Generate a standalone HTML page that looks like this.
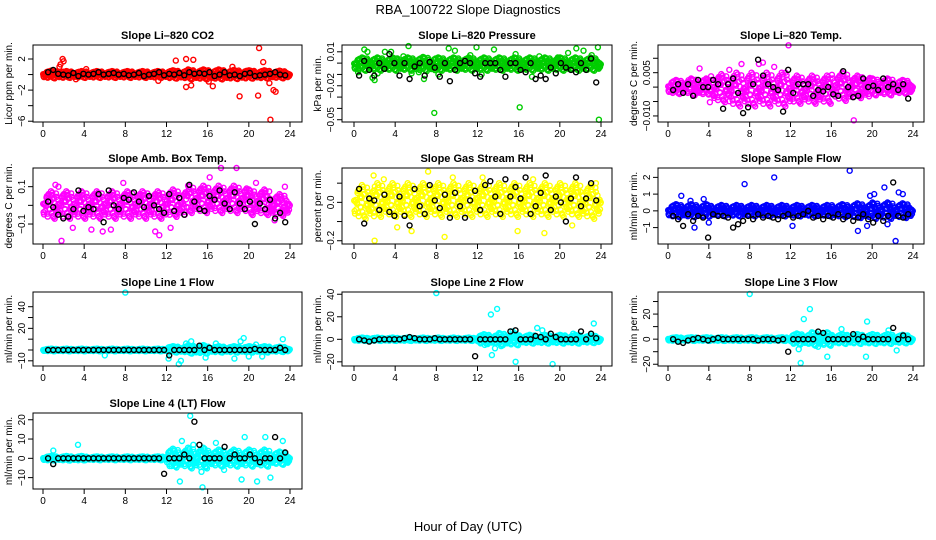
<!DOCTYPE html>
<html><head><meta charset="utf-8"><style>
body{margin:0;background:#fff}
svg{display:block;font-family:"Liberation Sans",Arial,sans-serif}
</style></head><body>
<svg id="chart" width="936" height="540" viewBox="0 0 936 540" xmlns="http://www.w3.org/2000/svg">
<rect width="936" height="540" fill="#fff"/>
<text x="468" y="14" text-anchor="middle" font-size="13">RBA_100722  Slope Diagnostics</text>
<text x="468" y="531" text-anchor="middle" font-size="13">Hour of Day (UTC)</text>
</svg>
<script>
// ---- shared data ----
const xTicks = [0,4,8,12,16,20,24];
const jit = [0.1,-0.3,0.6,-0.8,0.2,-0.05,0.9,-0.5,0.35,-0.15,0.7,-0.95,0.0,0.45,-0.65,0.25,-0.35,0.8,-0.2,0.55,-0.75,0.05,1.0,-0.45,0.3,-0.1,0.65,-0.85,0.15,-0.55,0.4,-0.25,0.85,-0.6,0.5,-0.4,0.75];

// ---- CO2 ----
const co2Mid = [0,0,0,0,0,0,0,0,0,0,0,0];
const co2Spread = [0.5,0.45,0.45,0.45,0.45,0.45,0.55,0.65,0.65,0.6,0.55,0.5];
const co2Out = [[1.6,1.0],[1.7,1.3],[1.9,2.0],[2.0,1.7],[3.2,-0.6],[11.2,-0.8],[12.9,1.8],[13.9,2.0],[14.6,1.9],[13.9,-1.6],[14.4,-1.4],[16.5,-1.5],[16.1,-0.9],[19.1,-2.8],[21.0,3.4],[20.9,-2.7],[21.4,1.6],[22.0,-1.1],[22.4,-2.0],[22.6,-2.2],[22.1,-5.8],[18.4,1.0],[4.2,0.7]];
const co2Black = [0.3,0.6,0.1,0,-0.1,0.2,-0.2,0.1,0,0.1,0.3,0,0.1,0.2,0,0.1,-0.1,0,0.2,-0.2,0,0.1,0.3,-0.1,0.1,0,0.2,-0.1,0.3,0.1,0.2,0.1,0.3,-0.2,0,0.3,-0.1,0,-0.2,0.1,0.2,-0.2,-0.1,0,0.1,0.3,0,-0.1];
// ---- Pressure ----
const presMid = [-0.001,-0.001,-0.001,-0.001,-0.001,-0.001,-0.001,-0.001,-0.001,-0.001,-0.001,-0.001];
const presSpread = [0.006,0.006,0.006,0.0065,0.006,0.006,0.006,0.006,0.006,0.006,0.006,0.006];
const presOut = [[0.4,-0.008],[1.0,0.012],[1.3,0.010],[1.8,-0.013],[2.3,-0.009],[3.0,0.010],[3.6,0.010],[4.1,0.004],[4.8,0.006],[5.3,0.015],[5.6,-0.009],[6.3,-0.008],[7.8,-0.044],[8.2,-0.010],[9.2,0.013],[9.8,0.011],[11.3,0.007],[11.9,0.014],[12.4,-0.010],[13.6,0.012],[14.3,-0.006],[15.7,0.008],[16.1,-0.039],[17.3,-0.012],[18.0,0.006],[19.8,0.005],[20.8,0.009],[21.6,0.013],[22.3,0.011],[23.1,0.007],[23.7,0.014],[23.8,-0.05],[2.0,-0.015],[6.8,-0.014]];
const presBlack = [-0.011,0.002,-0.006,-0.011,0,-0.005,0.008,0,-0.011,0,-0.014,-0.003,0,-0.011,0.001,-0.004,-0.012,0,-0.016,-0.006,0,0.002,0,-0.009,-0.012,0,0,0,-0.006,-0.012,0,0,-0.006,-0.008,0,-0.014,-0.011,-0.014,-0.004,-0.009,0,-0.004,-0.006,-0.008,0,-0.006,0.004,-0.017];
// ---- Li-820 Temp ----
const ltMid = [0,0,-0.0005,-0.001,-0.001,-0.001,-0.001,-0.001,0,0,0,0];
const ltSpread = [0.0025,0.003,0.005,0.006,0.006,0.006,0.005,0.005,0.005,0.004,0.003,0.0025];
const ltOut = [[11.8,0.0145],[9.3,0.0085],[8.9,0.008],[10.4,0.007],[7.2,0.008],[3.1,0.0065],[18.2,-0.0115],[11.5,0.005],[6.0,0.006]];
const ltBlack = [-0.001,0.001,-0.002,0.001,-0.003,0.0025,0,0,0.0025,0.001,-0.0075,0.001,0.003,-0.002,-0.009,-0.007,0.001,0.0095,0.004,0.001,0,-0.001,-0.0085,0.006,-0.002,0.001,0.001,0.001,-0.003,-0.001,-0.0015,0,-0.0025,-0.003,0.0055,0,-0.0035,-0.003,0.003,0,0.0005,-0.001,0.003,0,0.001,-0.001,0.001,-0.004];
// ---- Amb Box Temp ----
const abMid = [0,0,0,0,0,0,0.01,0.03,0.03,0.03,0.015,0];
const abSpread = [0.075,0.075,0.075,0.075,0.075,0.075,0.075,0.075,0.075,0.075,0.07,0.06];
const abOut = [[1.2,0.11],[1.5,0.1],[1.8,-0.19],[2.9,-0.12],[4.7,-0.13],[5.8,-0.14],[6.6,-0.13],[7.8,0.12],[10.9,-0.14],[11.3,-0.16],[12.4,-0.12],[16.2,0.15],[17.3,0.2],[18.8,0.2],[20.7,0.12],[23.5,0.1],[22.5,-0.08]];
const abBlack = [0.02,-0.01,-0.05,-0.07,-0.06,-0.02,0.08,-0.03,-0.01,-0.02,0.06,-0.09,0.08,0,-0.02,0.04,0.03,0.07,0.02,-0.01,0.05,0,-0.02,-0.04,0.06,-0.03,0.04,-0.05,0.11,0.02,-0.02,-0.03,0.05,0.03,0.08,0.01,-0.02,0.07,0.01,-0.02,0.02,-0.1,0.01,-0.02,0.03,-0.07,-0.04,-0.09];
// ---- Gas Stream RH ----
const rhMid = [0,0.01,0.01,0.01,0.01,0.01,0.01,0.01,0.01,0.01,0.01,0];
const rhSpread = [0.09,0.09,0.09,0.09,0.09,0.09,0.09,0.09,0.09,0.09,0.09,0.09];
const rhOut = [[2.0,-0.2],[1.9,0.14],[2.9,0.12],[7.2,0.16],[8.8,-0.18],[9.6,0.13],[4.2,-0.13],[5.6,-0.15],[15.9,-0.15],[18.5,-0.16],[12.5,0.13],[17.4,0.12],[23.5,0.1],[21.2,-0.12]];
const rhBlack = [0.07,-0.11,0.02,0.01,-0.04,0.04,-0.05,-0.07,0.03,-0.07,-0.12,0.07,-0.02,-0.06,0.09,0.01,-0.03,0.04,-0.08,0.05,-0.02,-0.08,0.01,0.06,-0.04,0.09,0.11,0.03,-0.06,0.12,0.03,0.08,0.02,0.13,-0.06,-0.02,0.05,0.14,-0.04,0.03,0,-0.1,0.02,0.13,-0.02,0.02,0.1,0.01];
// ---- Sample Flow ----
const sfMid = [0,0,0,0,0,0,0,0,0,0,0,0];
const sfSpread = [0.4,0.4,0.35,0.35,0.35,0.35,0.35,0.35,0.4,0.45,0.5,0.45];
const sfOut = [[1.3,0.9],[2.2,0.6],[2.6,-1.0],[3.5,0.7],[4.0,-0.7],[7.5,1.6],[10.4,2.0],[12.2,-0.9],[17.8,2.4],[18.6,-1.2],[19.8,0.9],[20.2,1.0],[21.2,1.4],[22.3,-1.8],[22.6,1.1],[23.0,1.0],[19.5,-0.9],[21.5,-0.8]];
const sfBlack = [-0.3,-0.5,-0.9,-0.2,-0.6,-0.3,-0.4,-1.6,-0.2,-0.3,-0.3,-0.4,-1.0,-0.8,-0.6,-0.3,-0.5,-0.2,-0.4,-0.3,-0.4,-0.5,-0.3,-0.2,-0.4,-0.3,-0.2,0,-0.4,-0.3,-0.5,-0.3,-0.4,-0.2,-0.5,-0.3,-0.6,-0.4,-0.2,-0.5,-0.7,-0.3,-0.6,-0.3,1.7,-0.3,-0.4,-0.2];
// ---- Line 1 ----
const l1Mid = [0,0,0,0,0,0,0.5,0.5,0.5,0.5,0.5,0.5];
const l1Spread = [1.2,1.2,1.2,1.2,1.2,1.2,3.0,4.0,3.0,3.0,3.0,2.5];
const l1Out = [[8.0,53],[13.2,-13],[13.4,-10],[12.2,-8],[14.4,8],[13.9,6],[15.8,-7],[16.8,6],[19.2,8],[19.5,11],[20.0,-6],[23.3,10],[18.6,-8],[20.7,5],[21.3,-6],[6.0,-5]];
const l1Black = [0,0,0,0,0,0,0,0,0,0,0,0,0,0,0,0,0,0,0,0,0,0,0,0,-5,0,0,0,0,0,4,0,2,0,0,0,0,0,0,0,0,1,0,0,0,0,2,0];
// ---- Line 2 ----
const l2Mid = [0,0,0,0,0,0,0,0,0,0,0,0];
const l2Spread = [1.5,1.5,1.5,1.5,1.5,1.5,4.5,5.5,4,4,4,3.5];
const l2Out = [[8.0,41],[13.3,22],[13.9,27],[13.4,-14],[13.7,-8],[14.3,-6],[15.7,-20],[19.3,-22],[17.8,10],[18.3,8],[23.3,14],[21.3,5],[12.7,-5],[15.4,7]];
const l2Black = [0,-1,-2,-1,0,0,0,0,0,1,2,1,0,0,0,1,0,0,0,0,0,0,0,-15,0,0,0,0,0,0,7,8,0,0,0,3,2,0,5,2,0,0,0,0,7,0,5,1];
// ---- Line 3 ----
const l3Mid = [0,0,0,0,0,0,0,0,0,0,0,0];
const l3Spread = [1.5,1.5,1.5,1.5,1.5,1.5,4.5,5.5,4,4,4,3.5];
const l3Out = [[8.0,36],[13.0,-19],[13.3,16],[13.9,24],[15.6,-14],[12.8,-8],[19.4,-14],[19.5,14],[17.0,8],[21.6,7],[22.4,-9],[14.7,-6]];
const l3Black = [0,-2,-3,-1,0,1,0,-1,0,1,0,0,0,0,0,0,0,-1,0,0,0,-1,0,-10,0,0,0,0,0,6,5,0,0,0,0,0,4,0,2,0,0,0,0,0,9,0,3,0];
// ---- Line 4 ----
const l4Mid = [0,0,0,0,0,0,0,0,0,0,0,0];
const l4Spread = [1.2,1.2,1.0,1.0,1.0,1.0,5.0,5.5,4.5,4.5,4.5,3.5];
const l4Out = [[1.0,4],[3.4,7],[13.3,-12],[14.3,22],[13.5,9],[15.5,-15],[15.4,-7],[16.8,8],[17.6,-6],[19.3,-11],[19.6,11],[20.8,-12],[21.6,11],[22.1,-10],[23.3,9],[12.5,-4],[14.6,7]];
const l4Black = [0,-3,0,0,0,0,0,0,0,0,0,0,0,0,0,0,0,0,0,0,0,0,0,-8,0,0,0,2,0,19,7,0,0,0,0,6,0,2,0,0,2,0,-2,0,0,11,0,3];

// ---- panel layout (not data) ----
const cols = [{l:33,r:302,x0:43,x24:290},{l:342,r:612,x0:354,x24:601},{l:658,r:924,x0:668,x24:913}];
const rows = [{t:45,b:122},{t:168,b:244},{t:292,b:366},{t:413,b:489}];
const panels = [
 {name:'co2',title:'Slope Li\u2013820 CO2',ylab:'Licor ppm per min.',col:'#ff0000',c:0,r:0,dom:[-6.1,3.8],ticks:[-6,-4,-2,0,2],labs:[[-6,'\u22126'],[-2,'\u22122'],[2,'2']],mid:co2Mid,spr:co2Spread,out:co2Out,blk:co2Black},
 {name:'pressure',title:'Slope Li\u2013820 Pressure',ylab:'kPa per min.',col:'#00cd00',c:1,r:0,dom:[-0.052,0.016],ticks:[-0.05,-0.04,-0.03,-0.02,-0.01,0,0.01],labs:[[-0.05,'\u22120.05'],[-0.02,'\u22120.02'],[0.01,'0.01']],mid:presMid,spr:presSpread,out:presOut,blk:presBlack},
 {name:'li820-temp',title:'Slope Li\u2013820 Temp.',ylab:'degrees C per min.',col:'#ff00ff',c:2,r:0,dom:[-0.0121,0.0146],ticks:[-0.01,-0.005,0,0.005,0.01],labs:[[-0.01,'\u22120.010'],[0.005,'0.005']],mid:ltMid,spr:ltSpread,out:ltOut,blk:ltBlack},
 {name:'amb-box-temp',title:'Slope Amb. Box Temp.',ylab:'degrees C per min.',col:'#ff00ff',c:0,r:1,dom:[-0.207,0.2],ticks:[-0.1,0,0.1],labs:[[-0.1,'\u22120.1'],[0.1,'0.1']],mid:abMid,spr:abSpread,out:abOut,blk:abBlack},
 {name:'gas-stream-rh',title:'Slope Gas Stream RH',ylab:'percent per min.',col:'#ffff00',c:1,r:1,dom:[-0.217,0.179],ticks:[-0.2,-0.1,0,0.1],labs:[[-0.2,'\u22120.2'],[0,'0.0']],mid:rhMid,spr:rhSpread,out:rhOut,blk:rhBlack},
 {name:'sample-flow',title:'Slope Sample Flow',ylab:'ml/min per min.',col:'#0000ff',c:2,r:1,dom:[-1.98,2.56],ticks:[-1,0,1,2],labs:[[-1,'\u22121'],[0,'0'],[1,'1'],[2,'2']],mid:sfMid,spr:sfSpread,out:sfOut,blk:sfBlack},
 {name:'line1-flow',title:'Slope Line 1 Flow',ylab:'ml/min per min.',col:'#00ffff',c:0,r:2,dom:[-14.8,53.6],ticks:[-10,0,10,20,30,40],labs:[[-10,'\u221210'],[20,'20'],[40,'40']],mid:l1Mid,spr:l1Spread,out:l1Out,blk:l1Black},
 {name:'line2-flow',title:'Slope Line 2 Flow',ylab:'ml/min per min.',col:'#00ffff',c:1,r:2,dom:[-23.7,42],ticks:[-20,0,20,40],labs:[[-20,'\u221220'],[0,'0'],[20,'20'],[40,'40']],mid:l2Mid,spr:l2Spread,out:l2Out,blk:l2Black},
 {name:'line3-flow',title:'Slope Line 3 Flow',ylab:'ml/min per min.',col:'#00ffff',c:2,r:2,dom:[-21.4,37.6],ticks:[-20,-10,0,10,20,30],labs:[[-20,'\u221220'],[0,'0'],[20,'20']],mid:l3Mid,spr:l3Spread,out:l3Out,blk:l3Black},
 {name:'line4-flow',title:'Slope Line 4 (LT) Flow',ylab:'ml/min per min.',col:'#00ffff',c:0,r:3,dom:[-15.9,23.5],ticks:[-10,0,10,20],labs:[[-10,'\u221210'],[0,'0'],[10,'10'],[20,'20']],mid:l4Mid,spr:l4Spread,out:l4Out,blk:l4Black}
];

const NS='http://www.w3.org/2000/svg';
const svg=document.getElementById('chart');
function mk(tag,attrs,parent){const e=document.createElementNS(NS,tag);for(const k in attrs)e.setAttribute(k,attrs[k]);parent.appendChild(e);return e;}

panels.forEach(p=>{
  const C=cols[p.c],R=rows[p.r];
  const xs=h=>C.x0+(h/24)*(C.x24-C.x0);
  const ys=v=>R.b-(v-p.dom[0])/(p.dom[1]-p.dom[0])*(R.b-R.t);
  const g=mk('g',{},svg);
  
  
  const t=mk('text',{x:(C.l+C.r)/2,y:R.t-6,'text-anchor':'middle','font-size':'11','font-weight':'bold'},g);
  t.textContent=p.title;
  
  
  // points: cloud
  const pts=mk('g',{fill:'none','stroke-width':'1.4'},g);
  
  
  for(let i=0;i<600;i++){
    const h=0.02+i*0.04;
    const bin=Math.min(11,Math.floor(h/2));
    const v=p.mid[bin]+p.spr[bin]*jit[(i*7)%jit.length];
    const c=mk('circle',{cx:xs(h).toFixed(1),cy:ys(v).toFixed(1),r:'2.5',stroke:p.col},pts);
    
    
  }
  p.out.forEach(o=>{
    const c=mk('circle',{cx:xs(o[0]).toFixed(1),cy:ys(o[1]).toFixed(1),r:'2.5',stroke:p.col},pts);
    
    
  });
  p.blk.forEach((v,k)=>{
    const c=mk('circle',{cx:xs(0.5+k*0.49).toFixed(1),cy:ys(v).toFixed(1),r:'2.5',stroke:'#000'},pts);
    
    
  });
  // box
  const box=mk('rect',{x:C.l,y:R.t,width:C.r-C.l,height:R.b-R.t,fill:'none',stroke:'#000','stroke-width':'1'},g);
  
  
  // x axis
  const xa=mk('g',{stroke:'#000','stroke-width':'1'},g);
  
  
  mk('line',{x1:xs(0),x2:xs(24),y1:R.b,y2:R.b},xa);
  xTicks.forEach(h=>{
    mk('line',{x1:xs(h),x2:xs(h),y1:R.b,y2:R.b+5},xa);
    const tl=mk('text',{x:xs(h),y:R.b+15,'text-anchor':'middle','font-size':'10',stroke:'none'},g);
    tl.textContent=h;
    
    
  });
  // y axis
  const ya=mk('g',{stroke:'#000','stroke-width':'1'},g);
  
  
  const tmin=Math.min(...p.ticks),tmax=Math.max(...p.ticks);
  mk('line',{x1:C.l,x2:C.l,y1:ys(tmin),y2:ys(tmax)},ya);
  p.ticks.forEach(v=>mk('line',{x1:C.l-5,x2:C.l,y1:ys(v),y2:ys(v)},ya));
  p.labs.forEach(l=>{
    const x=C.l-8,y=ys(l[0]);
    const tl=mk('text',{x:x,y:y,'text-anchor':'middle','font-size':'10',transform:`rotate(-90 ${x} ${y})`},g);
    tl.textContent=l[1];
    
    
  });
  const yx=C.l-21,yy=(R.t+R.b)/2;
  const yt=mk('text',{x:yx,y:yy,'text-anchor':'middle','font-size':'10',transform:`rotate(-90 ${yx} ${yy})`},g);
  yt.textContent=p.ylab;
  
  
});
</script>
</body></html>
